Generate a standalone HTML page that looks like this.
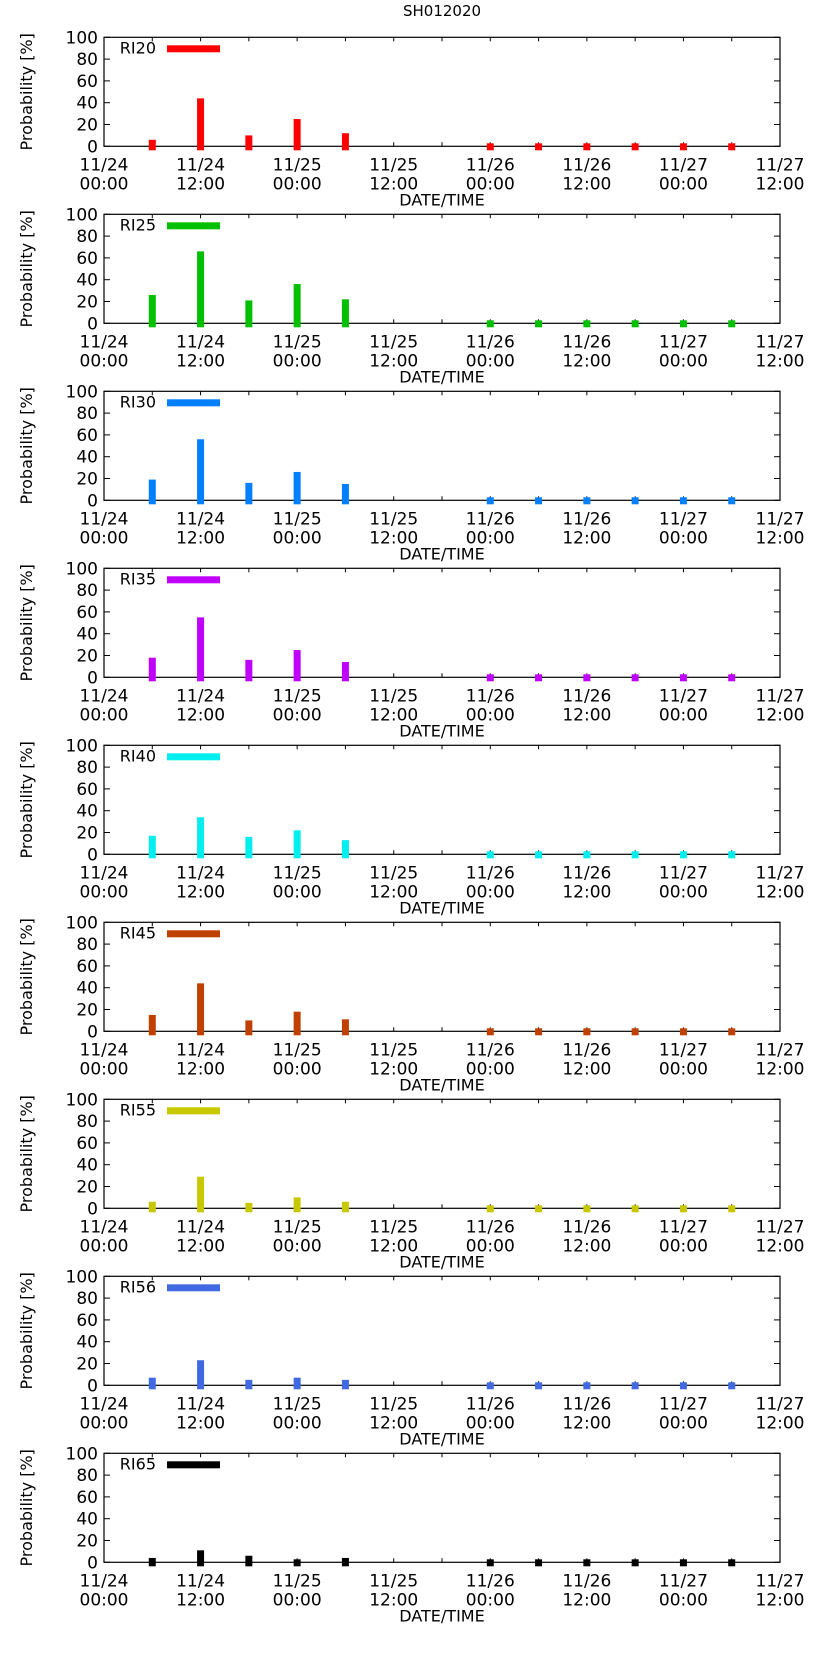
<!DOCTYPE html>
<html><head><meta charset="utf-8"><style>
body{margin:0;background:#fff;}
svg{display:block;font-family:"DejaVu Sans","Liberation Sans",sans-serif;}
</style></head><body>
<svg id="chart" width="823" height="1653" viewBox="0 0 823 1653" xmlns="http://www.w3.org/2000/svg">
<text x="442" y="16" text-anchor="middle" font-size="15">SH012020</text>
</svg>
<script>
const seriesNames = ["RI20","RI25","RI30","RI35","RI40","RI45","RI55","RI56","RI65"];
const seriesColors = ["#ff0000","#00c000","#0080ff","#c000ff","#00eeee","#c04000","#c8c800","#4169e1","#000000"];
const hours = [6,12,18,24,30,48,54,60,66,72,78];
const ri20 = [6,44,10,25,12,0,0,0,0,0,0];
const ri25 = [26,66,21,36,22,0,0,0,0,0,0];
const ri30 = [19,56,16,26,15,0,0,0,0,0,0];
const ri35 = [18,55,16,25,14,0,0,0,0,0,0];
const ri40 = [17,34,16,22,13,0,0,0,0,0,0];
const ri45 = [15,44,10,18,11,0,0,0,0,0,0];
const ri55 = [6,29,5,10,6,0,0,0,0,0,0];
const ri56 = [7,23,5,7,5,0,0,0,0,0,0];
const ri65 = [4,11,6,2,4,0,0,0,0,0,0];
const allSeries = [ri20,ri25,ri30,ri35,ri40,ri45,ri55,ri56,ri65];
const xTickHours = [0,12,24,36,48,60,72,84];
const xTickDates = ["11/24","11/24","11/25","11/25","11/26","11/26","11/27","11/27"];
const xTickTimes = ["00:00","12:00","00:00","12:00","00:00","12:00","00:00","12:00"];
const yTicks = [0,20,40,60,80,100];

const NS="http://www.w3.org/2000/svg";
const svg=document.getElementById('chart');
const L=104,R=780,PH=109,SP=177,T0=37.3;
function mk(tag,attrs,parent){const e=document.createElementNS(NS,tag);for(const k in attrs)e.setAttribute(k,attrs[k]);(parent||svg).appendChild(e);return e;}
function xs(h){return L+(R-L)*h/84;}

seriesNames.forEach((name,i)=>{
  const top=T0+i*SP, bot=top+PH;
  const ys=v=>bot-PH*v/100;
  const g=mk('g',{});
  
  
  for(let h=0;h<=84;h+=6){
    const x=xs(h);
    const t1=mk('line',{x1:x,x2:x,y1:bot,y2:bot-4,stroke:'#000','stroke-width':1},g);
    
    
    const t2=mk('line',{x1:x,x2:x,y1:top,y2:top+4,stroke:'#000','stroke-width':1},g);
    
    
  }
  yTicks.forEach(v=>{
    const y=ys(v);
    const a=mk('line',{x1:L,x2:L+6,y1:y,y2:y,stroke:'#000'},g);
    
    
    const b=mk('line',{x1:R,x2:R-6,y1:y,y2:y,stroke:'#000'},g);
    
    
    const tl=mk('text',{x:L-6,y:y+6,'text-anchor':'end','font-size':17},g);
    tl.textContent=v;
    
    
  });
  xTickHours.forEach((h,k)=>{
    const x=xs(h);
    const a=mk('text',{x:x,y:bot+24,'text-anchor':'middle','font-size':17},g);
    a.textContent=xTickDates[k];
    
    
    const b=mk('text',{x:x,y:bot+43,'text-anchor':'middle','font-size':17},g);
    b.textContent=xTickTimes[k];
    
    
  });
  const xt=mk('text',{x:442,y:bot+59,'text-anchor':'middle','font-size':16},g);
  xt.textContent='DATE/TIME';
  
  
  const yt=mk('text',{x:0,y:0,'text-anchor':'middle','font-size':16,transform:`translate(32,${(top+bot)/2}) rotate(-90)`},g);
  yt.textContent='Probability [%]';
  
  
  const f=mk('rect',{x:L,y:top,width:R-L,height:PH,fill:'none',stroke:'#000','stroke-width':1.2},g);
  
  
  allSeries[i].forEach((v,k)=>{
    const x=xs(hours[k]);
    const yTop=Math.min(ys(v),bot-3);
    const r=mk('rect',{x:x-3.5,y:yTop,width:7,height:bot+4-yTop,fill:seriesColors[i]},g);
    
    
  });
  const lt=mk('text',{x:156,y:top+16,'text-anchor':'end','font-size':16},g);
  lt.textContent=name;
  
  
  const ll=mk('rect',{x:167,y:top+8,width:53,height:7,fill:seriesColors[i]},g);
  
  
});
</script>
</body></html>
